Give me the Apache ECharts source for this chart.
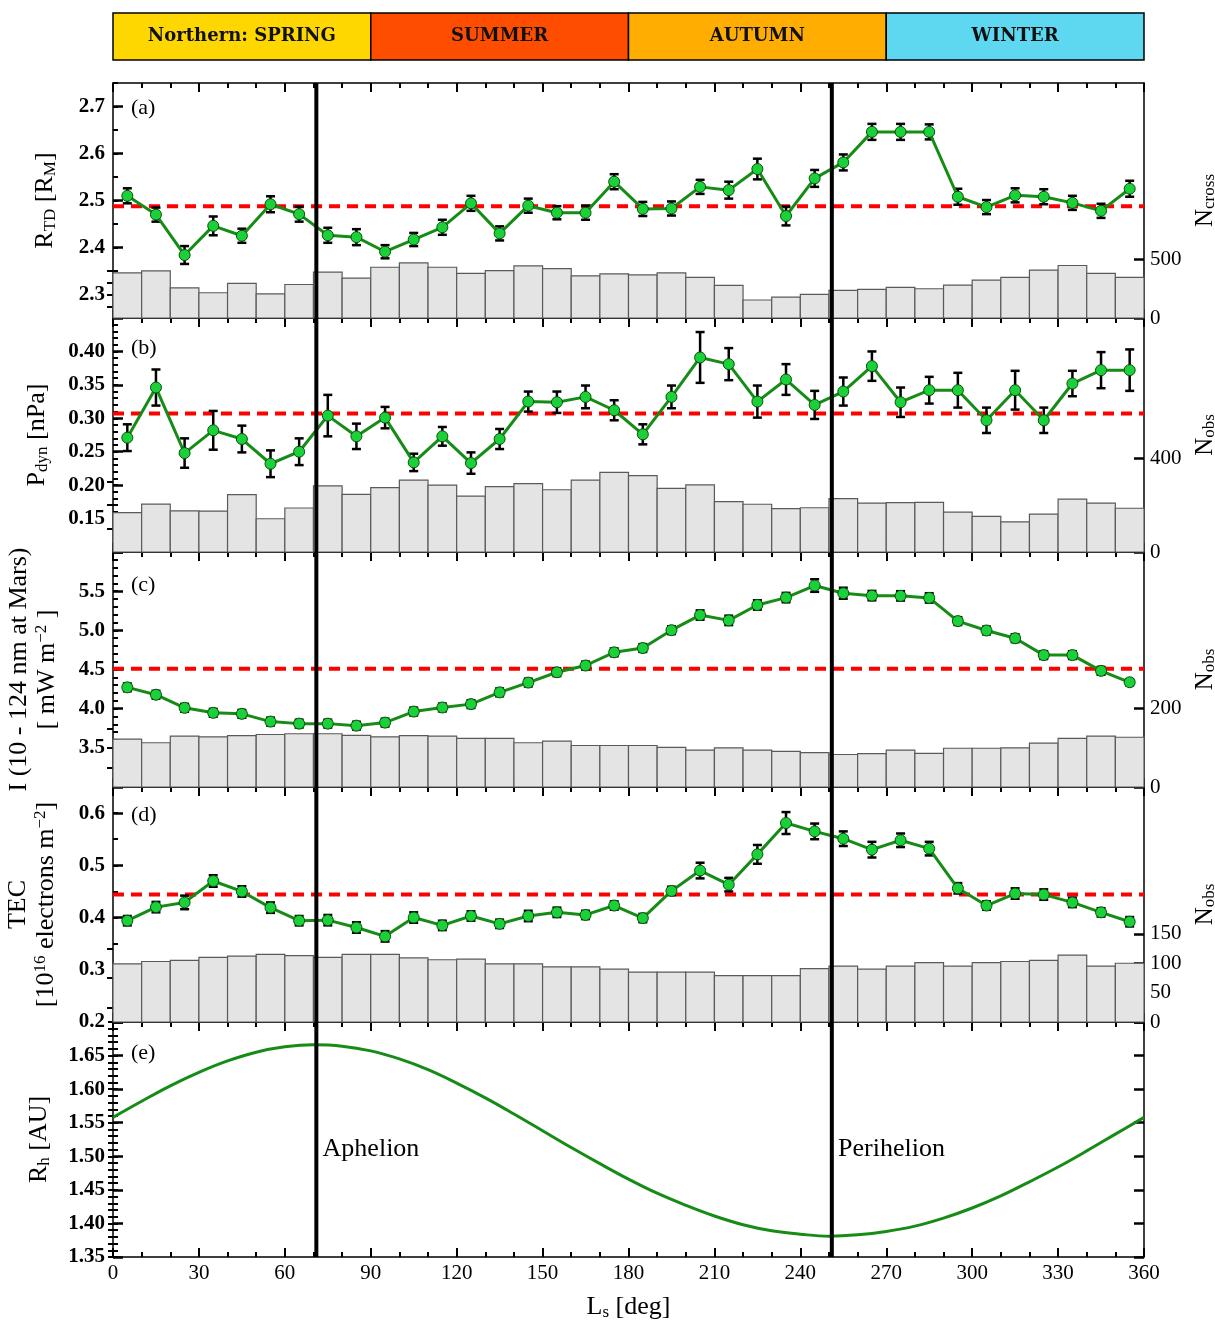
<!DOCTYPE html>
<html><head><meta charset="utf-8">
<script src="https://cdn.jsdelivr.net/npm/echarts@6/dist/echarts.min.js"></script>
<style>html,body{margin:0;padding:0;background:#fff}#chart{width:1215px;height:1321px}</style>
</head><body><div id="chart"></div>
<script>
// ---------------- DATA ----------------
const lsCenters = [5,15,25,35,45,55,65,75,85,95,105,115,125,135,145,155,165,175,185,195,205,215,225,235,245,255,265,275,285,295,305,315,325,335,345,355];
const binWidth = 10;

const rtd = [2.510,2.470,2.384,2.446,2.425,2.492,2.471,2.426,2.422,2.391,2.417,2.443,2.494,2.430,2.489,2.474,2.474,2.540,2.482,2.483,2.529,2.522,2.567,2.467,2.547,2.581,2.646,2.646,2.646,2.508,2.486,2.511,2.508,2.495,2.478,2.525];
const rtdErr = [0.016,0.015,0.019,0.020,0.015,0.017,0.016,0.016,0.017,0.014,0.014,0.016,0.016,0.015,0.015,0.014,0.015,0.016,0.015,0.015,0.015,0.018,0.022,0.020,0.018,0.017,0.017,0.017,0.016,0.017,0.015,0.015,0.016,0.015,0.015,0.017];
const nCross = [384,401,257,215,294,206,285,390,339,432,469,432,379,404,443,421,359,375,367,384,345,277,153,178,201,235,243,260,249,280,322,345,407,447,379,345];
const meanRtd = 2.488;

const pdyn = [0.271,0.346,0.248,0.282,0.269,0.232,0.250,0.304,0.273,0.301,0.234,0.273,0.233,0.269,0.325,0.324,0.332,0.312,0.276,0.332,0.391,0.381,0.325,0.358,0.320,0.340,0.378,0.324,0.342,0.342,0.297,0.342,0.297,0.352,0.372,0.372];
const pdynErr = [0.020,0.027,0.022,0.029,0.020,0.020,0.020,0.031,0.019,0.016,0.013,0.014,0.016,0.015,0.015,0.016,0.017,0.015,0.015,0.017,0.038,0.024,0.024,0.023,0.021,0.021,0.022,0.022,0.020,0.026,0.019,0.029,0.019,0.019,0.027,0.031];
const nObsB = [168,205,176,175,245,142,188,283,246,275,307,286,239,279,292,266,307,340,326,272,287,215,204,185,189,228,209,211,212,170,152,129,162,226,209,187];
const meanPdyn = 0.307;

const euv = [4.272,4.178,4.011,3.947,3.934,3.835,3.809,3.809,3.783,3.822,3.963,4.015,4.058,4.208,4.333,4.465,4.551,4.719,4.774,5.002,5.195,5.127,5.324,5.418,5.572,5.474,5.443,5.440,5.414,5.118,4.998,4.899,4.684,4.684,4.483,4.337];
const euvErr = [0.05,0.05,0.05,0.05,0.05,0.05,0.05,0.05,0.05,0.05,0.05,0.05,0.05,0.05,0.05,0.05,0.05,0.05,0.05,0.05,0.06,0.06,0.06,0.06,0.08,0.07,0.06,0.06,0.06,0.05,0.05,0.05,0.05,0.05,0.05,0.04];
const nObsC = [122,113,130,128,131,134,136,136,132,128,131,130,124,124,113,117,106,106,106,101,94,100,94,91,88,83,85,94,86,99,99,100,112,124,130,127];
const meanEuv = 4.51;

const tec = [0.394,0.420,0.429,0.470,0.450,0.419,0.394,0.395,0.381,0.364,0.400,0.385,0.403,0.388,0.403,0.410,0.405,0.423,0.399,0.451,0.490,0.463,0.521,0.581,0.565,0.551,0.530,0.548,0.532,0.456,0.423,0.446,0.444,0.429,0.410,0.392];
const tecErr = [0.009,0.010,0.013,0.011,0.010,0.010,0.009,0.010,0.010,0.010,0.010,0.009,0.009,0.008,0.010,0.009,0.008,0.008,0.008,0.008,0.015,0.013,0.018,0.021,0.015,0.014,0.015,0.013,0.013,0.010,0.008,0.010,0.010,0.009,0.008,0.009];
const nObsD = [99,103,105,110,112,115,113,110,115,115,109,106,107,99,99,94,94,90,85,85,85,79,79,79,91,95,90,95,101,95,101,103,105,114,95,100];
const meanTec = 0.444;

const rhLs = [0,10,20,30,40,50,60,70,80,90,100,110,120,130,140,150,160,170,180,190,200,210,220,230,240,250,260,270,280,290,300,310,320,330,340,350,360];
const rh = [1.558,1.582,1.605,1.625,1.642,1.655,1.663,1.666,1.664,1.657,1.645,1.629,1.609,1.587,1.563,1.538,1.513,1.489,1.466,1.445,1.427,1.411,1.398,1.389,1.384,1.381,1.383,1.388,1.396,1.408,1.423,1.441,1.462,1.484,1.508,1.533,1.558];

const aphelionLs = 71, perihelionLs = 251;
const annotations = ['Aphelion', 'Perihelion'];
const annotationY = 1.51;

const seasons = ['Northern: SPRING', 'SUMMER', 'AUTUMN', 'WINTER'];
const seasonStart = [0, 90, 180, 270];
const seasonEnd = [90, 180, 270, 360];

// tick values
const rtdTicks = [2.3,2.4,2.5,2.6,2.7];
const rtdLabels = [2.3,2.4,2.5,2.6,2.7];
const pdynTicks = [0.10,0.15,0.20,0.25,0.30,0.35,0.40,0.45];
const pdynLabels = [0.15,0.20,0.25,0.30,0.35,0.40];
const euvTicks = [3.0,3.5,4.0,4.5,5.0,5.5,6.0];
const euvLabels = [3.5,4.0,4.5,5.0,5.5];
const tecTicks = [0.2,0.3,0.4,0.5,0.6];
const tecLabels = [0.2,0.3,0.4,0.5,0.6];
const rhTicks = [1.35,1.40,1.45,1.50,1.55,1.60,1.65,1.70];
const rhLabels = [1.35,1.40,1.45,1.50,1.55,1.60,1.65];
const nCrossLabels = [0,500], nCrossMinor = [100,200,300,400];
const nObsBLabels = [0,400], nObsBMinor = [100,200,300];
const nObsCLabels = [0,200], nObsCMinor = [50,100,150];
const nObsDLabels = [0,50,100,150], nObsDMinor = [25,75,125];

// ---------------- LAYOUT / STYLE ----------------
const FONT = '"Liberation Serif", "DejaVu Serif", serif';
const L = 113, W = 1031;
const seasonColors = ['#FFD700', '#FF4D00', '#FFAD00', '#5ED8F0'];
const richName = {
  sub: {fontSize: 17, fontFamily: FONT, lineHeight: 17, verticalAlign: 'bottom', color: '#000'},
  sup: {fontSize: 17, fontFamily: FONT, lineHeight: 17, verticalAlign: 'top', color: '#000'}
};
const nameStyle = {fontFamily: FONT, fontSize: 26, lineHeight: 28, color: '#000', rich: richName};
const nameStyleR = {fontFamily: FONT, fontSize: 25, lineHeight: 26, color: '#000', rich: richName};

const panels = [
  {top: 83, h: 235, vals: rtd, errs: rtdErr, counts: nCross, mean: meanRtd, min: 2.25, max: 2.75, minorStep: 0.05,
   ticks: rtdTicks, labels: rtdLabels, dec: 1, nMax: 2000, nLabels: nCrossLabels, nMinor: nCrossMinor,
   name: 'R{sub|TD} [R{sub|M}]', nameGap: 54, rname: 'N{sub|cross}', tag: '(a)', tagTop: 97},
  {top: 318, h: 234, vals: pdyn, errs: pdynErr, counts: nObsB, mean: meanPdyn, min: 0.10, max: 0.45, minorStep: 0.01,
   ticks: pdynTicks, labels: pdynLabels, dec: 2, nMax: 1000, nLabels: nObsBLabels, nMinor: nObsBMinor,
   name: 'P{sub|dyn} [nPa]', nameGap: 62, rname: 'N{sub|obs}', tag: '(b)', tagTop: 337},
  {top: 552, h: 235, vals: euv, errs: euvErr, counts: nObsC, mean: meanEuv, min: 3.0, max: 6.0, minorStep: 0.1,
   ticks: euvTicks, labels: euvLabels, dec: 1, nMax: 600, nLabels: nObsCLabels, nMinor: nObsCMinor,
   name: 'I (10 - 124 nm at Mars)\n[ mW m{sup|−2} ]', nameGap: 52, rname: 'N{sub|obs}', tag: '(c)', tagTop: 574},
  {top: 787, h: 235, vals: tec, errs: tecErr, counts: nObsD, mean: meanTec, min: 0.2, max: 0.65, minorStep: 0.05,
   ticks: tecTicks, labels: tecLabels, dec: 1, nMax: 400, nLabels: nObsDLabels, nMinor: nObsDMinor,
   name: 'TEC\n[10{sup|16} electrons m{sup|−2}]', nameGap: 53, rname: 'N{sub|obs}', tag: '(d)', tagTop: 804}
];

const grids = [], xAxes = [], yAxes = [], series = [], graphics = [];

function gridDef(top, height) {
  return {left: L, width: W, top: top, height: height, containLabel: false, outerBoundsMode: 'none'};
}
function xAxisDef(gi, pos, withLabels) {
  return {type: 'value', gridIndex: gi, position: pos, min: 0, max: 360, interval: 30,
    axisLine: {show: true, onZero: false, lineStyle: {color: '#000', width: 1.5}},
    axisTick: {show: true, inside: true, length: 9, lineStyle: {color: '#000', width: 2}},
    minorTick: {show: true, splitNumber: 3, length: 5, lineStyle: {color: '#000', width: 2}},
    splitLine: {show: false}, minorSplitLine: {show: false},
    axisLabel: {show: withLabels, fontFamily: FONT, fontSize: 21, color: '#000', margin: 6}};
}
function yBase(gi, pos, min, max) {
  return {type: 'value', gridIndex: gi, position: pos, min: min, max: max,
    splitLine: {show: false}, axisLine: {show: false}, axisLabel: {show: false}, axisTick: {show: false}};
}
function addY(def) { yAxes.push(def); return yAxes.length - 1; }
function addX(def) { xAxes.push(def); return xAxes.length - 1; }

function leftAxes(gi, p) {
  const major = yBase(gi, 'left', p.min, p.max);
  major.axisLine = {show: true, onZero: false, lineStyle: {color: '#000', width: 1.5}};
  major.axisTick = {show: true, inside: true, length: 10, customValues: p.ticks, lineStyle: {color: '#000', width: 2.5}};
  major.axisLabel = {show: true, customValues: p.labels, formatter: v => Number(v).toFixed(p.dec),
    fontFamily: FONT, fontSize: 21, fontWeight: 'bold', color: '#000', margin: 8};
  major.name = p.name; major.nameLocation = 'middle'; major.nameRotate = 90; major.nameGap = p.nameGap;
  major.nameTextStyle = nameStyle;
  const yi = addY(major);
  const minor = yBase(gi, 'left', p.min, p.max);
  minor.interval = p.minorStep;
  minor.axisTick = {show: true, inside: true, length: 5, lineStyle: {color: '#000', width: 2}};
  addY(minor);
  return yi;
}

function vlineSeries(xi, yi, ymin) {
  return {type: 'custom', xAxisIndex: xi, yAxisIndex: yi, z: 6, silent: true, clip: false,
    data: [[aphelionLs, ymin], [perihelionLs, ymin]],
    renderItem: (params, api) => {
      const x = api.coord([api.value(0), ymin])[0];
      const cs = params.coordSys;
      return {type: 'line', shape: {x1: x, y1: cs.y, x2: x, y2: cs.y + cs.height},
        style: {stroke: '#000', lineWidth: 4}};
    }};
}

panels.forEach((p, i) => {
  grids.push(gridDef(p.top, p.h));
  const gi = grids.length - 1;
  const xb = addX(xAxisDef(gi, 'bottom', false));
  addX(xAxisDef(gi, 'top', false));
  const yl = leftAxes(gi, p);
  // right count axis
  const rMajor = yBase(gi, 'right', 0, p.nMax);
  rMajor.axisLine = {show: true, onZero: false, lineStyle: {color: '#000', width: 1.5}};
  rMajor.axisTick = {show: true, inside: true, length: 10, customValues: p.nLabels, lineStyle: {color: '#000', width: 2.5}};
  rMajor.axisLabel = {show: true, customValues: p.nLabels, fontFamily: FONT, fontSize: 21, color: '#000', margin: 6};
  rMajor.name = p.rname; rMajor.nameLocation = 'middle'; rMajor.nameRotate = 90; rMajor.nameGap = 44;
  rMajor.nameTextStyle = nameStyleR;
  const yr = addY(rMajor);
  const rMinor = yBase(gi, 'right', 0, p.nMax);
  rMinor.axisTick = {show: true, inside: true, length: 6, customValues: p.nMinor, lineStyle: {color: '#000', width: 2}};
  addY(rMinor);

  // histogram
  series.push({type: 'custom', xAxisIndex: xb, yAxisIndex: yr, z: 1, silent: true,
    data: lsCenters.map((c, k) => [c, p.counts[k]]),
    renderItem: (params, api) => {
      const c = api.value(0), n = api.value(1);
      const p0 = api.coord([c - binWidth / 2, 0]), p1 = api.coord([c + binWidth / 2, n]);
      return {type: 'rect', shape: {x: p0[0], y: p1[1], width: p1[0] - p0[0], height: p0[1] - p1[1]},
        style: {fill: '#e4e4e4', stroke: '#5a5a5a', lineWidth: 1.2}};
    }});
  // mean line
  series.push({type: 'line', xAxisIndex: xb, yAxisIndex: yl, z: 2, silent: true, symbol: 'none',
    data: [[0, p.mean], [360, p.mean]],
    lineStyle: {color: '#ff0000', width: 4, type: [11, 7]}});
  // error bars
  series.push({type: 'custom', xAxisIndex: xb, yAxisIndex: yl, z: 3, silent: true,
    data: lsCenters.map((c, k) => [c, p.vals[k], p.errs[k]]),
    renderItem: (params, api) => {
      const c = api.value(0), v = api.value(1), e = api.value(2);
      const t = api.coord([c, v + e]), b = api.coord([c, v - e]);
      const st = {stroke: '#000', lineWidth: 2.5};
      return {type: 'group', children: [
        {type: 'line', shape: {x1: t[0], y1: t[1], x2: b[0], y2: b[1]}, style: st},
        {type: 'line', shape: {x1: t[0] - 4.5, y1: t[1], x2: t[0] + 4.5, y2: t[1]}, style: st},
        {type: 'line', shape: {x1: b[0] - 4.5, y1: b[1], x2: b[0] + 4.5, y2: b[1]}, style: st}
      ]};
    }});
  // data line
  series.push({type: 'line', xAxisIndex: xb, yAxisIndex: yl, z: 4, silent: true,
    data: lsCenters.map((c, k) => [c, p.vals[k]]),
    symbol: 'circle', symbolSize: 11,
    itemStyle: {color: '#1ad13a', borderColor: '#0b4d0b', borderWidth: 1},
    lineStyle: {color: '#168c16', width: 3}});
  series.push(vlineSeries(xb, yl, p.min));
  graphics.push({type: 'text', left: 131, top: p.tagTop, style: {text: p.tag, fontFamily: FONT, fontSize: 22, fill: '#000'}});
});

// panel (e)
(function () {
  const p = {min: 1.35, max: 1.70, minorStep: 0.01, ticks: rhTicks, labels: rhLabels, dec: 2,
    name: 'R{sub|h} [AU]', nameGap: 60};
  grids.push(gridDef(1022, 235));
  const gi = grids.length - 1;
  const xbDef = xAxisDef(gi, 'bottom', true);
  xbDef.name = 'L{sub|s} [deg]'; xbDef.nameLocation = 'middle'; xbDef.nameGap = 36;
  xbDef.nameTextStyle = nameStyle;
  const xb = addX(xbDef);
  addX(xAxisDef(gi, 'top', false));
  const yl = leftAxes(gi, p);
  const rMajor = yBase(gi, 'right', p.min, p.max);
  rMajor.axisLine = {show: true, onZero: false, lineStyle: {color: '#000', width: 1.5}};
  rMajor.axisTick = {show: true, inside: true, length: 10, customValues: p.ticks, lineStyle: {color: '#000', width: 2.5}};
  addY(rMajor);
  const rMinor = yBase(gi, 'right', p.min, p.max);
  rMinor.interval = p.minorStep;
  rMinor.axisTick = {show: true, inside: true, length: 5, lineStyle: {color: '#000', width: 2}};
  addY(rMinor);

  series.push({type: 'line', xAxisIndex: xb, yAxisIndex: yl, z: 4, silent: true, symbol: 'none', smooth: 0.4,
    data: rhLs.map((x, k) => [x, rh[k]]), lineStyle: {color: '#168c16', width: 3}});
  series.push(vlineSeries(xb, yl, p.min));
  series.push({type: 'scatter', xAxisIndex: xb, yAxisIndex: yl, z: 7, silent: true, symbolSize: 0.5,
    itemStyle: {color: '#000', opacity: 1},
    data: [[aphelionLs, annotationY], [perihelionLs, annotationY]],
    label: {show: true, position: 'right', distance: 6, formatter: prm => annotations[prm.dataIndex],
      fontFamily: FONT, fontSize: 26, color: '#000', opacity: 1}});
  graphics.push({type: 'text', left: 131, top: 1042, style: {text: '(e)', fontFamily: FONT, fontSize: 22, fill: '#000'}});
})();

// season header
(function () {
  grids.push(gridDef(13, 47));
  const gi = grids.length - 1;
  const xi = addX({type: 'value', gridIndex: gi, min: 0, max: 360, show: false});
  const yi = addY({type: 'value', gridIndex: gi, min: 0, max: 1, show: false});
  series.push({type: 'custom', xAxisIndex: xi, yAxisIndex: yi, silent: true, clip: false,
    data: seasons.map((s, k) => [seasonStart[k], seasonEnd[k], k]),
    renderItem: (params, api) => {
      const k = params.dataIndex;
      const a = api.coord([api.value(0), 1]), b = api.coord([api.value(1), 0]);
      return {type: 'group', children: [
        {type: 'rect', shape: {x: a[0], y: a[1], width: b[0] - a[0], height: b[1] - a[1]},
          style: {fill: seasonColors[k], stroke: '#000', lineWidth: 1.5}},
        {type: 'text', style: {text: seasons[k], x: (a[0] + b[0]) / 2, y: (a[1] + b[1]) / 2,
          align: 'center', verticalAlign: 'middle', textAlign: 'center', textVerticalAlign: 'middle',
          fontFamily: '"DejaVu Serif", serif', fontSize: 18, fontWeight: 'bold', fill: '#111'}}
      ]};
    }});
})();

const chart = echarts.init(document.getElementById('chart'), null, {renderer: 'canvas'});
chart.setOption({animation: false, backgroundColor: '#fff', grid: grids, xAxis: xAxes, yAxis: yAxes, series: series, graphic: graphics});
</script>
</body></html>
